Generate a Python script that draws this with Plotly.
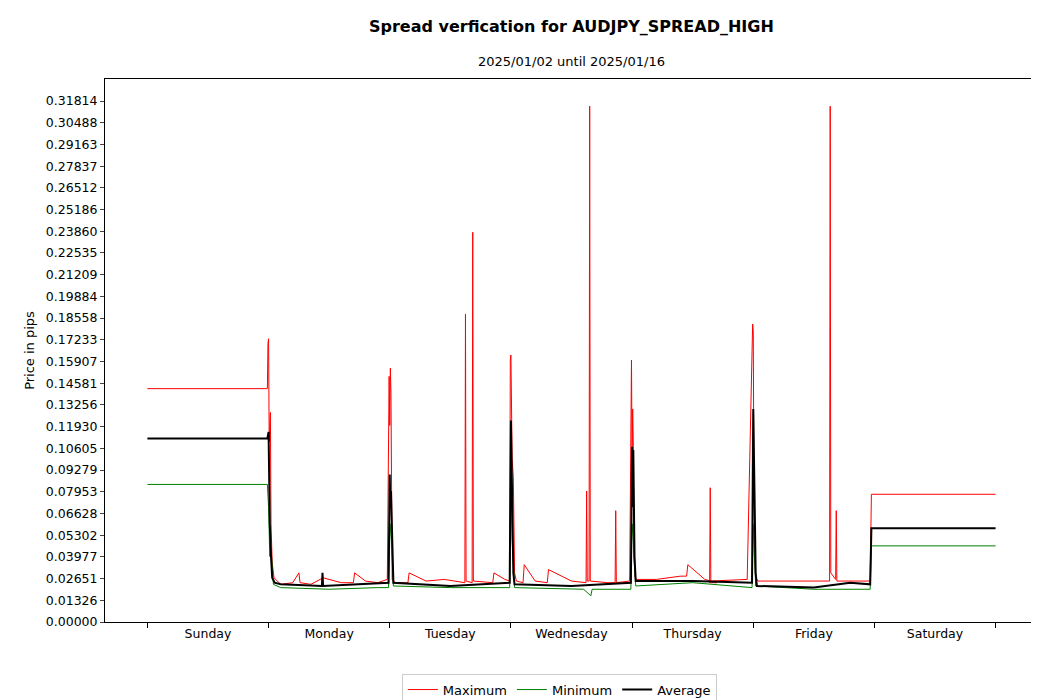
import plotly.graph_objects as go

day_labels = ["Sunday","Monday","Tuesday","Wednesday","Thursday","Friday","Saturday"]
y_ticks = [round(i*0.31814/24, 5) for i in range(25)]

max_x = [0,0.99,0.995,1.0,1.005,1.015,1.02,1.03,1.045,1.07,1.1,1.2,1.25,1.26,1.35,1.45,1.6,1.7,1.71,1.8,1.9,1.98,1.995,2.0,2.005,2.01,2.015,2.02,2.03,2.05,2.15,2.16,2.3,2.45,2.62,2.625,2.63,2.68,2.685,2.69,2.85,2.86,2.95,2.99,2.995,3.0,3.01,3.02,3.03,3.045,3.1,3.11,3.2,3.3,3.31,3.5,3.62,3.625,3.63,3.645,3.65,3.655,3.8,3.86,3.865,3.87,3.98,3.995,4.0,4.005,4.01,4.015,4.025,4.04,4.2,4.4,4.45,4.46,4.6,4.7,4.64,4.645,4.65,4.95,4.995,5.0,5.005,5.01,5.02,5.04,5.1,5.3,5.5,5.63,5.635,5.64,5.68,5.685,5.69,5.85,5.965,5.975,7]
max_y = [0.1425,0.1425,0.17,0.173,0.11,0.128,0.06,0.036,0.027,0.025,0.023,0.024,0.03,0.024,0.023,0.027,0.024,0.024,0.03,0.025,0.024,0.026,0.15,0.12,0.155,0.14,0.05,0.026,0.025,0.024,0.024,0.03,0.025,0.026,0.024,0.188,0.025,0.024,0.238,0.025,0.024,0.03,0.026,0.025,0.16,0.163,0.1,0.088,0.03,0.025,0.024,0.035,0.025,0.024,0.032,0.025,0.024,0.08,0.025,0.025,0.315,0.025,0.024,0.024,0.068,0.024,0.025,0.16,0.1,0.13,0.107,0.04,0.027,0.026,0.026,0.028,0.028,0.035,0.026,0.024,0.024,0.082,0.025,0.026,0.182,0.178,0.093,0.04,0.027,0.025,0.025,0.025,0.025,0.025,0.315,0.03,0.026,0.068,0.025,0.025,0.025,0.078,0.078]

min_x = [0,0.99,1.0,1.01,1.02,1.04,1.1,1.5,1.9,1.99,2.0,2.01,2.03,2.5,2.99,3.0,3.01,3.03,3.6,3.66,3.67,3.99,4.0,4.01,4.03,4.5,4.99,5.0,5.02,5.5,5.965,5.975,7]
min_y = [0.084,0.084,0.07,0.04,0.045,0.023,0.021,0.02,0.021,0.021,0.05,0.06,0.022,0.021,0.021,0.1,0.05,0.021,0.02,0.016,0.02,0.02,0.06,0.05,0.022,0.024,0.021,0.06,0.022,0.02,0.02,0.0465,0.0465]

avg_x = [0,0.99,1.0,1.005,1.01,1.02,1.03,1.05,1.1,1.44,1.445,1.45,1.99,2.0,2.005,2.01,2.02,2.03,2.5,2.99,3.0,3.01,3.02,3.03,3.5,3.99,4.0,4.005,4.01,4.02,4.03,4.5,4.99,5.0,5.01,5.02,5.03,5.5,5.8,5.965,5.975,7]
avg_y = [0.112,0.112,0.116,0.07,0.06,0.04,0.027,0.024,0.023,0.022,0.03,0.022,0.024,0.09,0.07,0.08,0.04,0.024,0.022,0.024,0.123,0.06,0.03,0.023,0.022,0.024,0.107,0.07,0.105,0.04,0.025,0.025,0.024,0.13,0.09,0.03,0.022,0.021,0.024,0.023,0.0573,0.0573]

fig = go.Figure()
fig.add_trace(go.Scatter(x=max_x, y=max_y, mode="lines", name="Maximum", line=dict(color="red", width=1)))
fig.add_trace(go.Scatter(x=min_x, y=min_y, mode="lines", name="Minimum", line=dict(color="green", width=1)))
fig.add_trace(go.Scatter(x=avg_x, y=avg_y, mode="lines", name="Average", line=dict(color="black", width=2)))

fig.update_layout(
    width=1039, height=700, plot_bgcolor="white", paper_bgcolor="white",
    font=dict(family="DejaVu Sans", size=12.5, color="black"),
    margin=dict(l=97, r=9, t=71, b=86, autoexpand=False),
    annotations=[
        dict(text="<b>Spread verfication for AUDJPY_SPREAD_HIGH</b>", xref="paper", yref="paper",
             x=0.5, y=1, yshift=53, xanchor="center", yanchor="middle", showarrow=False, font=dict(size=16)),
        dict(text="2025/01/02 until 2025/01/16", xref="paper", yref="paper",
             x=0.5, y=1, yshift=18, xanchor="center", yanchor="middle", showarrow=False, font=dict(size=13)),
    ],
    legend=dict(orientation="h", x=0.487, xanchor="center", y=-0.095, yanchor="top",
                bordercolor="#cccccc", borderwidth=1, font=dict(size=13)),
    showlegend=True,
)
fig.update_xaxes(range=[-0.35, 7.35], tickvals=[i+0.5 for i in range(7)], ticktext=day_labels,
                 ticks="", showgrid=False, showline=True, mirror=True, linecolor="black", zeroline=False,
                 automargin=False,
                 minor=dict(tickvals=list(range(8)), ticks="outside", ticklen=5, tickcolor="black", showgrid=False))
fig.update_yaxes(range=[0, 0.3316], tickvals=y_ticks, ticktext=[f"{v:.5f}" for v in y_ticks],
                 ticks="outside", ticklen=4, showgrid=False, showline=True, mirror=True, linecolor="black",
                 zeroline=False, automargin=False, title=dict(text="Price in pips", font=dict(size=13), standoff=8))
fig.write_html("out.html")
